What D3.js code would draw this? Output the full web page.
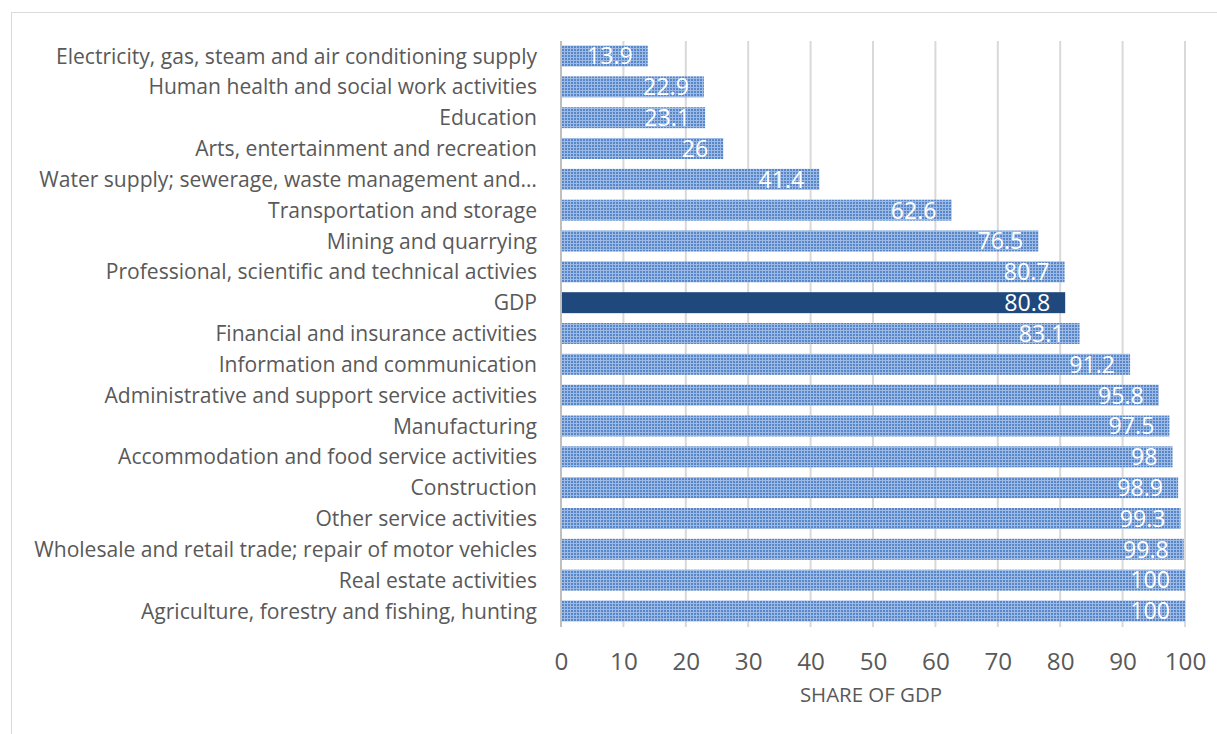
<!DOCTYPE html>
<html><head><meta charset="utf-8">
<script src="https://cdn.jsdelivr.net/npm/d3@7"></script>
<style>body{margin:0;background:#fff;} svg{display:block;}</style>
</head><body>
<svg id="c" width="1217" height="734"></svg>
<script>
const categories = [
 "Electricity, gas, steam and air conditioning supply",
 "Human health and social work activities",
 "Education",
 "Arts, entertainment and recreation",
 "Water supply; sewerage, waste management and…",
 "Transportation and storage",
 "Mining and quarrying",
 "Professional, scientific and technical activies",
 "GDP",
 "Financial and insurance activities",
 "Information and communication",
 "Administrative and support service activities",
 "Manufacturing",
 "Accommodation and food service activities",
 "Construction",
 "Other service activities",
 "Wholesale and retail trade; repair of motor vehicles",
 "Real estate activities",
 "Agriculture, forestry and fishing, hunting"
];
const values = [13.9,22.9,23.1,26,41.4,62.6,76.5,80.7,80.8,83.1,91.2,95.8,97.5,98,98.9,99.3,99.8,100,100];
const valueLabels = ["13.9","22.9","23.1","26","41.4","62.6","76.5","80.7","80.8","83.1","91.2","95.8","97.5","98","98.9","99.3","99.8","100","100"];
const xTicks = [0,10,20,30,40,50,60,70,80,90,100];
const highlight = "GDP";
const axisTitle = "SHARE OF GDP";

const svg = d3.select("#c");
const font = "'Open Sans', sans-serif";

// pattern
const defs = svg.append("defs");
const pat = defs.append("pattern").attr("id","dots").attr("patternUnits","userSpaceOnUse")
  .attr("width",3).attr("height",3);
pat.append("rect").attr("width",3).attr("height",3).attr("fill","#5787c9");
pat.append("rect").attr("x",0).attr("y",0).attr("width",3).attr("height",1).attr("fill","#9cbae4");
pat.append("rect").attr("x",0).attr("y",0).attr("width",1).attr("height",3).attr("fill","#9cbae4");

// chart border
svg.append("rect").attr("x",11.5).attr("y",12.5).attr("width",1230).attr("height",740)
  .attr("fill","none").attr("stroke","#d9d9d9").attr("stroke-width",1);

const x = d3.scaleLinear().domain([0,100]).range([561,1185]);
const y = d3.scaleBand().domain(categories).range([40.6,626.4]).paddingInner(0.32).paddingOuter(0.16);

// gridlines
svg.append("g").selectAll("line").data(xTicks.slice(1)).join("line")
  .attr("x1",d=>x(d)).attr("x2",d=>x(d)).attr("y1",41).attr("y2",627)
  .attr("stroke","#d9d9d9").attr("stroke-width",2);

// bars
svg.append("g").selectAll("rect").data(categories).join("rect")
  .attr("x",x(0)).attr("y",d=>y(d)).attr("height",y.bandwidth())
  .attr("width",(d,i)=>x(values[i])-x(0))
  .attr("fill",d=>d===highlight?"#1f497d":"url(#dots)");

// axis line
svg.append("line").attr("x1",x(0)).attr("x2",x(0)).attr("y1",41).attr("y2",627)
  .attr("stroke","#bfbfbf").attr("stroke-width",2);

// value labels
const vl = svg.append("g").selectAll("text").data(categories).join("text")
  .attr("x",(d,i)=>x(values[i])-15).attr("y",d=>y(d)+y.bandwidth()/2)
  .attr("dy","0.36em").attr("text-anchor","end")
  .attr("font-family",font).attr("font-size",19).attr("fill","#ffffff")
  .text((d,i)=>valueLabels[i]);

// category labels
const yAxis = d3.axisLeft(y).tickSize(0).tickPadding(0);
const gy = svg.append("g").attr("transform","translate(537,0)").call(yAxis);
gy.select(".domain").remove();
const catText = gy.selectAll("text").attr("font-family",font).attr("font-size",19).attr("fill","#595959").attr("dy","0.36em");
// fit font size so the longest label spans the same width as in the reference (~503px)
let maxW = 0; catText.each(function(){ maxW = Math.max(maxW, this.getComputedTextLength()); });
const fs = 19 * 503 / maxW;
catText.attr("font-size", fs);

// x axis
const xAxis = d3.axisBottom(x).tickValues(xTicks).tickSize(0).tickPadding(0).tickFormat(d3.format("d"));
const gx = svg.append("g").attr("transform","translate(0,661)").call(xAxis);
gx.select(".domain").remove();
gx.selectAll("text").attr("font-family",font).attr("font-size",fs*1.15).attr("fill","#595959").attr("dy","0.36em");
vl.attr("font-size", fs*1.1);

svg.append("text").attr("x",871).attr("y",695).attr("dy","0.36em").attr("text-anchor","middle")
  .attr("font-family",font).attr("font-size",fs*0.97).attr("fill","#595959").text(axisTitle);
</script>
</body></html>
